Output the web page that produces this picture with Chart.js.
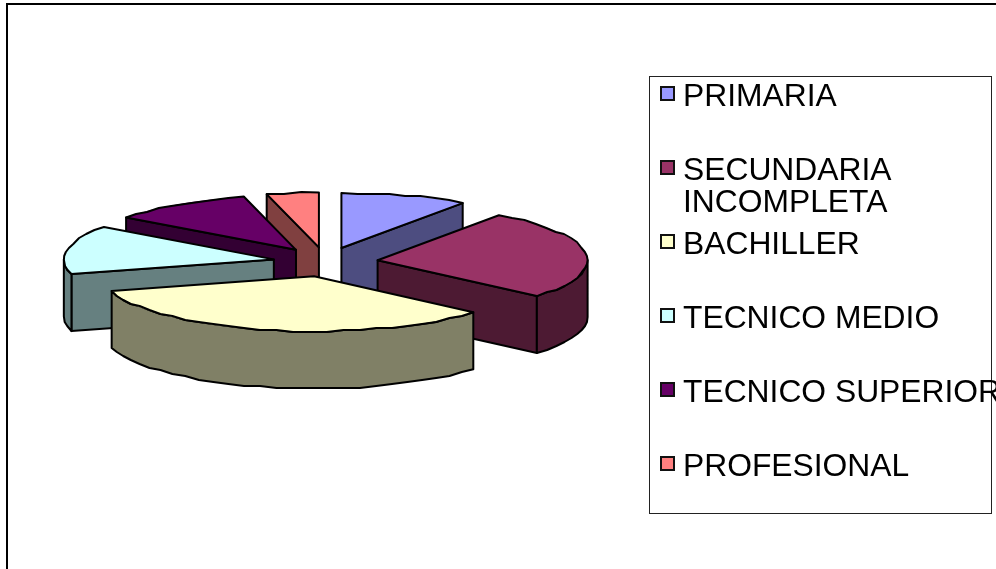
<!DOCTYPE html>
<html>
<head>
<meta charset="utf-8">
<title>Nivel de estudios</title>
<script src="https://cdn.jsdelivr.net/npm/chart.js@4"></script>
<style>
    html, body { margin: 0; padding: 0; background: #fff; overflow: hidden; }
    #pagina { position: relative; width: 996px; height: 569px; overflow: hidden; }
    #marco { position: absolute; left: 6px; top: 3px; width: 1100px; height: 700px; border: 2px solid #000; }
    canvas { position: absolute; left: 0; top: 0; }
    #leyenda {
        position: absolute; left: 649px; top: 76px; width: 341px; height: 436px;
        border: 1px solid #222;
        font-family: "Liberation Sans", Arial, sans-serif; font-size: 31.8px; line-height: 32px; color: #000;
    }
    .fila { position: absolute; left: 33px; white-space: nowrap; }
    .cuadro { position: absolute; left: -23px; top: 7px; width: 11px; height: 11px; border: 2px solid #111; }
</style>
</head>
<body>
<div id="pagina">
    <div id="marco"></div>
    <canvas id="chart" width="996" height="569"></canvas>
    <div id="leyenda"></div>
</div>
<script>
const etiquetas = ['PRIMARIA', ['SECUNDARIA', 'INCOMPLETA'], 'BACHILLER', 'TECNICO MEDIO', 'TECNICO SUPERIOR', 'PROFESIONAL'];
const valores = [9.8, 26.5, 34.4, 14.3, 11.0, 4.0];
const colores = ['#9999FF', '#993366', '#FFFFCC', '#CCFFFF', '#660066', '#FF8080'];
const coloresLado = ['#4D4D80', '#4D1A33', '#808066', '#668080', '#330033', '#804040'];

const aplastado = 0.262;   // relacion vertical de la elipse
const separacion = 52.5;   // cuanto se separa cada porcion del centro
const separacionY = 0.28;  // la separacion vertical va un poco mas abierta
const grosor = 57;         // altura del lado en pixeles
const paso = 2;            // el borde original sale escalonado, se redondea a esta grilla

// Dibuja la torta con perspectiva: primero los lados, despues las caras de arriba
const torta3d = {
    id: 'torta3d',
    beforeDatasetsDraw(chart) {
        const ctx = chart.ctx;
        const arcos = chart.getDatasetMeta(0).data;

        const porciones = arcos.map(function(arco, i) {
            const medio = (arco.startAngle + arco.endAngle) / 2;
            return {
                arco: arco,
                color: coloresLado[i],
                ini: arco.startAngle,
                fin: arco.endAngle,
                medio: medio,
                cx: arco.x + Math.cos(medio) * separacion,
                cy: arco.y + Math.sin(medio) * separacion * separacionY,
                r: arco.outerRadius
            };
        });

        function punto(p, ang, baja) {
            return [p.cx + Math.cos(ang) * p.r, p.cy + Math.sin(ang) * p.r * aplastado + baja];
        }

        // recorre el borde de la elipse con pequenos escalones
        function borde(p, desde, hasta, baja) {
            const n = Math.max(2, Math.round(Math.abs(hasta - desde) / 0.08));
            for (let i = 0; i <= n; i++) {
                const q = punto(p, desde + (hasta - desde) * i / n, baja);
                if (i > 0 && i < n) {
                    q[1] = Math.round(q[1] / paso) * paso;
                }
                ctx.lineTo(q[0], q[1]);
            }
        }

        function cara(p, ang) {
            const a = punto(p, ang, 0);
            const b = punto(p, ang, grosor);
            ctx.beginPath();
            ctx.moveTo(p.cx, p.cy);
            ctx.lineTo(a[0], a[1]);
            ctx.lineTo(b[0], b[1]);
            ctx.lineTo(p.cx, p.cy + grosor);
            ctx.closePath();
            ctx.fillStyle = p.color;
            ctx.fill();
            ctx.stroke();
        }

        ctx.save();
        ctx.lineWidth = 2;
        ctx.strokeStyle = '#000';
        ctx.lineJoin = 'round';

        // de atras hacia adelante
        porciones.slice().sort(function(a, b) {
            return Math.sin(a.medio) - Math.sin(b.medio);
        }).forEach(function(p) {
            if (Math.cos(p.ini) < -0.001) cara(p, p.ini);
            if (Math.cos(p.fin) > 0.001) cara(p, p.fin);

            const desde = Math.max(p.ini, 0);
            const hasta = Math.min(p.fin, Math.PI);
            if (hasta > desde) {
                ctx.beginPath();
                borde(p, desde, hasta, 0);
                borde(p, hasta, desde, grosor);
                ctx.closePath();
                ctx.fillStyle = p.color;
                ctx.fill();
                ctx.stroke();
            }
        });

        // caras de arriba, las rellena el propio arco de Chart.js
        porciones.forEach(function(p) {
            ctx.save();
            ctx.translate(p.cx, p.cy);
            ctx.scale(1, aplastado);
            ctx.translate(-p.arco.x, -p.arco.y);
            p.arco.draw(ctx);
            ctx.restore();

            ctx.beginPath();
            ctx.moveTo(p.cx, p.cy);
            borde(p, p.ini, p.fin, 0);
            ctx.closePath();
            ctx.stroke();
        });
        ctx.restore();
        return false;
    }
};

new Chart(document.getElementById('chart').getContext('2d'), {
    type: 'pie',
    data: {
        labels: etiquetas,
        datasets: [{
            data: valores,
            backgroundColor: colores,
            borderWidth: 0
        }]
    },
    options: {
        responsive: false,
        animation: false,
        radius: 210,
        layout: { padding: { right: 345, bottom: 45 } },
        plugins: {
            legend: { display: false },
            tooltip: { enabled: false }
        }
    },
    plugins: [torta3d]
});

// Leyenda
const leyenda = document.getElementById('leyenda');
let y = 2;
etiquetas.forEach(function(etiqueta, i) {
    const fila = document.createElement('div');
    fila.className = 'fila';
    fila.style.top = y + 'px';
    const cuadro = document.createElement('span');
    cuadro.className = 'cuadro';
    cuadro.style.background = colores[i];
    fila.appendChild(cuadro);
    [].concat(etiqueta).forEach(function(linea) {
        const d = document.createElement('div');
        d.textContent = linea;
        fila.appendChild(d);
    });
    leyenda.appendChild(fila);
    y += 74;
});
</script>
</body>
</html>
